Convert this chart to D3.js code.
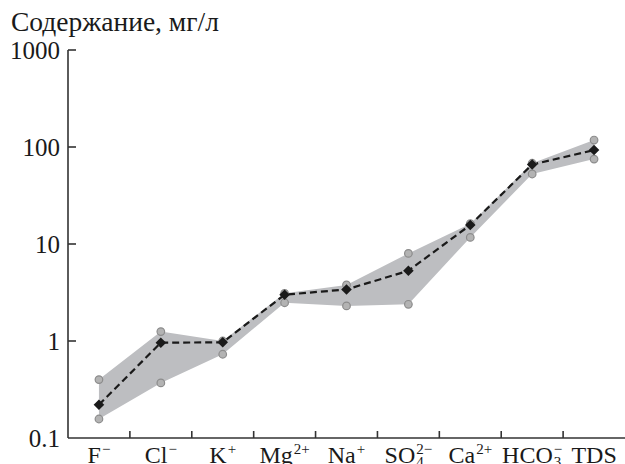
<!DOCTYPE html>
<html>
<head>
<meta charset="utf-8">
<script src="https://cdn.jsdelivr.net/npm/d3@7"></script>
<style>
  html, body { margin: 0; padding: 0; background: #fff; }
  svg { display: block; }
</style>
</head>
<body>
<svg id="ionPlot" width="625" height="464"></svg>
<script>
// Ion labels: base symbol, subscript and superscript charge
const ionBase = ["F", "Cl", "K", "Mg", "Na", "SO", "Ca", "HCO", "TDS"];
const ionSub  = ["",  "",   "",  "",   "",   "4",  "",   "3",   ""];
const ionSup  = ["\u2212", "\u2212", "+", "2+", "+", "2\u2212", "2+", "\u2212", ""];

// Concentrations, mg/L: mean, minimum and maximum
const meanValues = [0.22, 0.96, 0.97, 3.0, 3.4, 5.3, 15.7, 66, 93];
const minValues  = [0.157, 0.37, 0.73, 2.48, 2.3, 2.39, 11.7, 52.7, 75];
const maxValues  = [0.40, 1.25, 1.0, 3.1, 3.78, 8.0, 16.2, 68, 118];

const yTickValues = [0.1, 1, 10, 100, 1000];
const yTickLabels = ["0.1", "1", "10", "100", "1000"];
const yTitle = "Содержание, мг/л";

const FONT = "'Liberation Serif', monospace";
const textColor = "#1a1a1a";

// Serif text helper
const serif = (sel, size) => sel
  .style("font-family", FONT, "important")
  .style("font-size", size + "px", "important")
  .attr("fill", textColor);

const svg = d3.select("#ionPlot");
const plotLeft = 68, plotRight = 625, plotTop = 50, plotBottom = 438;

const x = d3.scaleBand().domain(ionBase).range([plotLeft, plotRight]).paddingInner(0).paddingOuter(0);
const y = d3.scaleLog().domain([0.1, 1000]).range([plotBottom, plotTop]);
const cx = i => x(ionBase[i]) + x.bandwidth() / 2;

const rows = ionBase.map((b, i) => ({ i, mean: meanValues[i], min: minValues[i], max: maxValues[i] }));

// Min–max envelope
svg.append("path")
  .datum(rows)
  .attr("d", d3.area().x(d => cx(d.i)).y0(d => y(d.min)).y1(d => y(d.max)))
  .attr("fill", "#bdbec1");

// Axes
const axisColor = "#333";
svg.append("line").attr("x1", plotLeft).attr("x2", plotLeft).attr("y1", y(1000)).attr("y2", plotBottom)
  .attr("stroke", axisColor).attr("stroke-width", 1.6);
svg.append("line").attr("x1", plotLeft).attr("x2", plotRight).attr("y1", plotBottom).attr("y2", plotBottom)
  .attr("stroke", axisColor).attr("stroke-width", 1.6);

svg.selectAll(".ytick").data(yTickValues.slice(1)).join("line")
  .attr("x1", plotLeft).attr("x2", plotLeft + 8)
  .attr("y1", d => y(d)).attr("y2", d => y(d))
  .attr("stroke", axisColor).attr("stroke-width", 1.6);

serif(svg.selectAll(".ylabel").data(yTickValues).join("text")
  .attr("x", plotLeft - 8).attr("y", d => y(d)).attr("dy", "0.35em")
  .attr("text-anchor", "end")
  .text((d, i) => yTickLabels[i]), 25);

serif(svg.append("text").attr("x", 11).attr("y", 31).text(yTitle), 27.5);

// Category boundary ticks on the x axis
svg.selectAll(".xtick").data(ionBase.slice(1)).join("line")
  .attr("x1", d => x(d)).attr("x2", d => x(d))
  .attr("y1", plotBottom).attr("y2", plotBottom - 7)
  .attr("stroke", axisColor).attr("stroke-width", 1.6);

// Category labels with stacked sub/superscripts
ionBase.forEach((b, i) => {
  const g = svg.append("g");
  const base = serif(g.append("text").attr("x", 0).attr("y", 0).text(b), 24);
  const w = base.node().getComputedTextLength();
  let extra = 0;
  if (ionSup[i]) {
    const s = serif(g.append("text").attr("x", w + 1).attr("y", -9).text(ionSup[i]), 15);
    extra = Math.max(extra, s.node().getComputedTextLength() + 1);
  }
  if (ionSub[i]) {
    const s = serif(g.append("text").attr("x", w + 1).attr("y", 4).text(ionSub[i]), 15);
    extra = Math.max(extra, s.node().getComputedTextLength() + 1);
  }
  const total = w + extra;
  g.attr("transform", `translate(${cx(i) - total / 2},${463})`);
});

// Mean line
svg.append("path")
  .datum(rows)
  .attr("d", d3.line().x(d => cx(d.i)).y(d => y(d.mean)))
  .attr("fill", "none").attr("stroke", "#1a1a1a")
  .attr("stroke-width", 2.2).attr("stroke-dasharray", "7,4");

// Min and max markers
const ext = rows.flatMap(d => [{ i: d.i, v: d.min }, { i: d.i, v: d.max }]);
svg.selectAll(".ext").data(ext).join("circle")
  .attr("cx", d => cx(d.i)).attr("cy", d => y(d.v)).attr("r", 3.8)
  .attr("fill", "#b3b3b3").attr("stroke", "#8c8c8c").attr("stroke-width", 1.2);

// Mean markers: squares turned 45°
svg.selectAll(".mean").data(rows).join("path")
  .attr("d", d3.symbol(d3.symbolSquare, 56))
  .attr("transform", d => `translate(${cx(d.i)},${y(d.mean)}) rotate(45)`)
  .attr("fill", "#1a1a1a");
</script>
</body>
</html>
